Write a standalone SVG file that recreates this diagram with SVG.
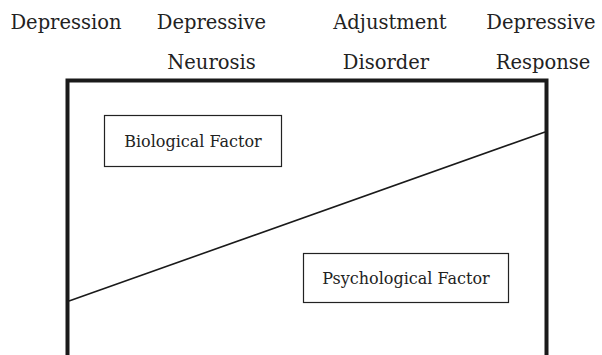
<svg xmlns="http://www.w3.org/2000/svg" width="602" height="355" viewBox="0 0 602 355">
<style>
.hdr{font-family:"DejaVu Serif","Liberation Serif",serif;font-size:19.5px;fill:#222;text-anchor:middle}
.lbl{font-family:"DejaVu Serif","Liberation Serif",serif;font-size:16px;fill:#222;text-anchor:middle}
.box{fill:#fff;stroke:#222;stroke-width:1.2}
</style>
<rect width="602" height="355" fill="#fff"/>
<g id="headers">
<text class="hdr" x="66" y="29">Depression</text>
<text class="hdr" x="211.5" y="29">Depressive</text>
<text class="hdr" x="211.5" y="69">Neurosis</text>
<text class="hdr" x="390" y="29">Adjustment</text>
<text class="hdr" x="386" y="69">Disorder</text>
<text class="hdr" x="541" y="29">Depressive</text>
<text class="hdr" x="543" y="69">Response</text>
</g>
<g id="frame">
<path d="M67.5,355 V80.5 H546.5 V355" fill="none" stroke="#1a1a1a" stroke-width="4"/>
</g>
<g id="connectors">
<line x1="69" y1="301" x2="545" y2="132" stroke="#1a1a1a" stroke-width="1.6"/>
</g>
<g id="biological">
<rect class="box" x="104.5" y="115.5" width="177" height="51"/>
<text class="lbl" x="193" y="146.5">Biological Factor</text>
</g>
<g id="psychological">
<rect class="box" x="303.5" y="253.5" width="205" height="49"/>
<text class="lbl" x="406" y="284">Psychological Factor</text>
</g>
</svg>
